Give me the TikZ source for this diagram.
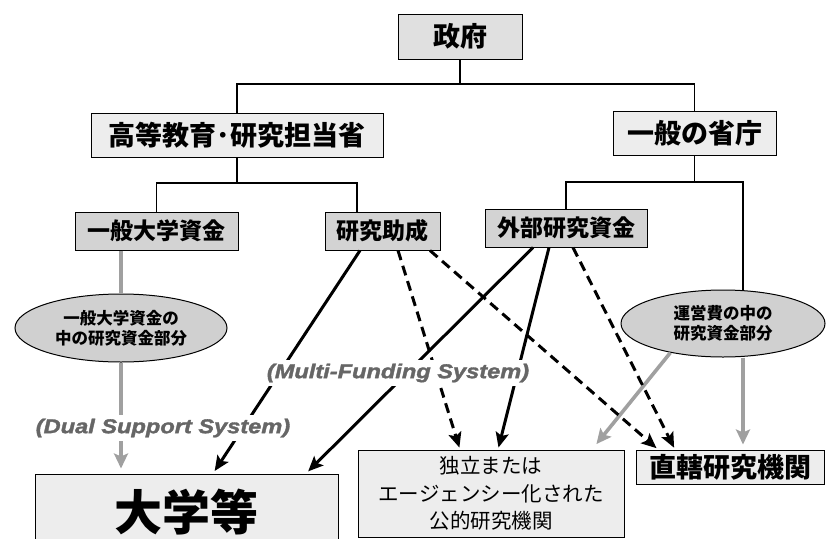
\documentclass[tikz,border=0pt]{standalone}
\usepackage{fontspec}
\newfontfamily\jp{Noto Sans CJK JP}
\newfontfamily\sysfont[FakeBold=1.6]{Liberation Sans}
\usetikzlibrary{arrows.meta,calc,shapes.geometric}
\definecolor{cgov}{HTML}{E0E0E0}
\definecolor{clight}{HTML}{EDEDED}
\definecolor{cdark}{HTML}{D3D3D3}
\definecolor{cell}{HTML}{D0D0D0}
\definecolor{grayarrow}{HTML}{A0A0A0}
\definecolor{systext}{HTML}{666666}
\begin{document}
\begin{tikzpicture}[x=1pt,y=-1pt,
  box/.style={draw=black, line width=1pt, inner sep=0pt, align=center},
  oval/.style={ellipse, draw=black, line width=1pt, fill=cell, inner sep=0pt, align=center,
    font={\jp\bfseries\fontsize{16.5}{20.5}\selectfont}},
  tree/.style={line width=1.3pt},
  arr/.style={line width=3pt, -{Stealth[length=15pt,width=13pt,inset=3pt]}},
  dsh/.style={arr, dash pattern=on 10pt off 6pt},
  garr/.style={line width=3.6pt, draw=grayarrow, -{Stealth[length=15pt,width=14pt,inset=3pt]}},
  gline/.style={line width=3.6pt, draw=grayarrow},
  sys/.style={font={\sysfont\bfseries\itshape\fontsize{20}{22}\selectfont}, text=systext, fill=white, inner sep=4pt, xscale=1.18}
]
\useasboundingbox (0,0) rectangle (826,538);
\clip (0,0) rectangle (826,538);

% boxes
\node[box, fill=cgov, minimum width=124pt, minimum height=45pt, font={\jp\bfseries\fontsize{27}{30}\selectfont}] (gov) at (460,36.5) {政府};
\node[box, fill=clight, minimum width=292pt, minimum height=44pt, font={\jp\bfseries\fontsize{27}{30}\selectfont}] (mext) at (237,135) {高等教育･研究担当省};
\node[box, fill=clight, minimum width=163pt, minimum height=44pt, font={\jp\bfseries\fontsize{27}{30}\selectfont}] (gen) at (694.5,133) {一般の省庁};
\node[box, fill=cdark, minimum width=163pt, minimum height=38pt, font={\jp\bfseries\fontsize{23}{26}\selectfont}] (ugf) at (156.5,231) {一般大学資金};
\node[box, fill=cdark, minimum width=115pt, minimum height=38pt, font={\jp\bfseries\fontsize{23}{26}\selectfont}] (ken) at (382.5,231) {研究助成};
\node[box, fill=cdark, minimum width=162pt, minimum height=38pt, font={\jp\bfseries\fontsize{23}{26}\selectfont}] (gai) at (566,228) {外部研究資金};
\node[oval, minimum width=212pt, minimum height=68pt] (e1) at (121,328) {一般大学資金の\\中の研究資金部分};
\node[oval, minimum width=204pt, minimum height=67pt] (e2) at (723,323.5) {運営費の中の\\研究資金部分};
\node[box, fill=clight, minimum width=303pt, minimum height=76pt, font={\jp\bfseries\fontsize{48}{52}\selectfont}] (uni) at (186.5,512) {大学等};
\node[box, fill=clight, minimum width=266pt, minimum height=87pt, font={\jp\fontsize{20.5}{27.5}\selectfont}] (ind) at (491,493.5) {独立または\\エージェンシー化された\\公的研究機関};
\node[box, fill=clight, minimum width=188pt, minimum height=34pt, font={\jp\bfseries\fontsize{27}{30}\selectfont}] (dir) at (730,467) {直轄研究機関};

% tree lines
\coordinate (h1) at (460,84);
\coordinate (m2) at (237,183);
\coordinate (kenT) at (357,183);
\coordinate (g2) at (694.5,182);
\coordinate (eT) at (743,182);
\draw[tree] (gov.south) -- (h1);
\draw[tree] (mext.north) |- (h1) -| (gen.north);
\draw[tree] (mext.south) -- (m2);
\draw[tree] (ugf.north) |- (kenT) -- (kenT |- ken.north);
\draw[tree] (gen.south) -- (g2);
\draw[tree] (gai.north) |- (eT) -- (eT |- e2.north);

% grey flows
\draw[gline] ([xshift=-35.5pt]ugf.south) -- (e1.north);
\draw[garr, shorten >=5pt] (e1.south) -- ([xshift=-65.5pt]uni.north);
\draw[garr, shorten >=5pt] ([xshift=20pt]e2.south) -- ([xshift=13pt]dir.north);
\draw[garr, shorten >=7pt] (e2.209) -- ([xshift=101pt]ind.north);

% black flows
\draw[arr, shorten >=3pt] ([xshift=-22.5pt]ken.south) -- ([xshift=26.5pt]uni.north);
\draw[dsh, shorten >=2pt] ([xshift=15.5pt]ken.south) -- ([xshift=-31pt]ind.north);
\draw[dsh, shorten >=2pt] ([xshift=47.5pt]ken.south) -- ([xshift=-72pt]dir.north);
\draw[arr, shorten >=3pt] ([xshift=-33pt]gai.south) -- ([xshift=119.5pt]uni.north);
\draw[arr, shorten >=2pt] ([xshift=-17pt]gai.south) -- ([xshift=7pt]ind.north);
\draw[dsh, shorten >=2pt] ([xshift=7pt]gai.south) -- ([xshift=-55pt]dir.north);

% labels
\node[sys] (multi) at (398,373) {(Multi-Funding System)};
\node[sys] (dual) at (163,428) {(Dual Support System)};
\end{tikzpicture}
\end{document}
